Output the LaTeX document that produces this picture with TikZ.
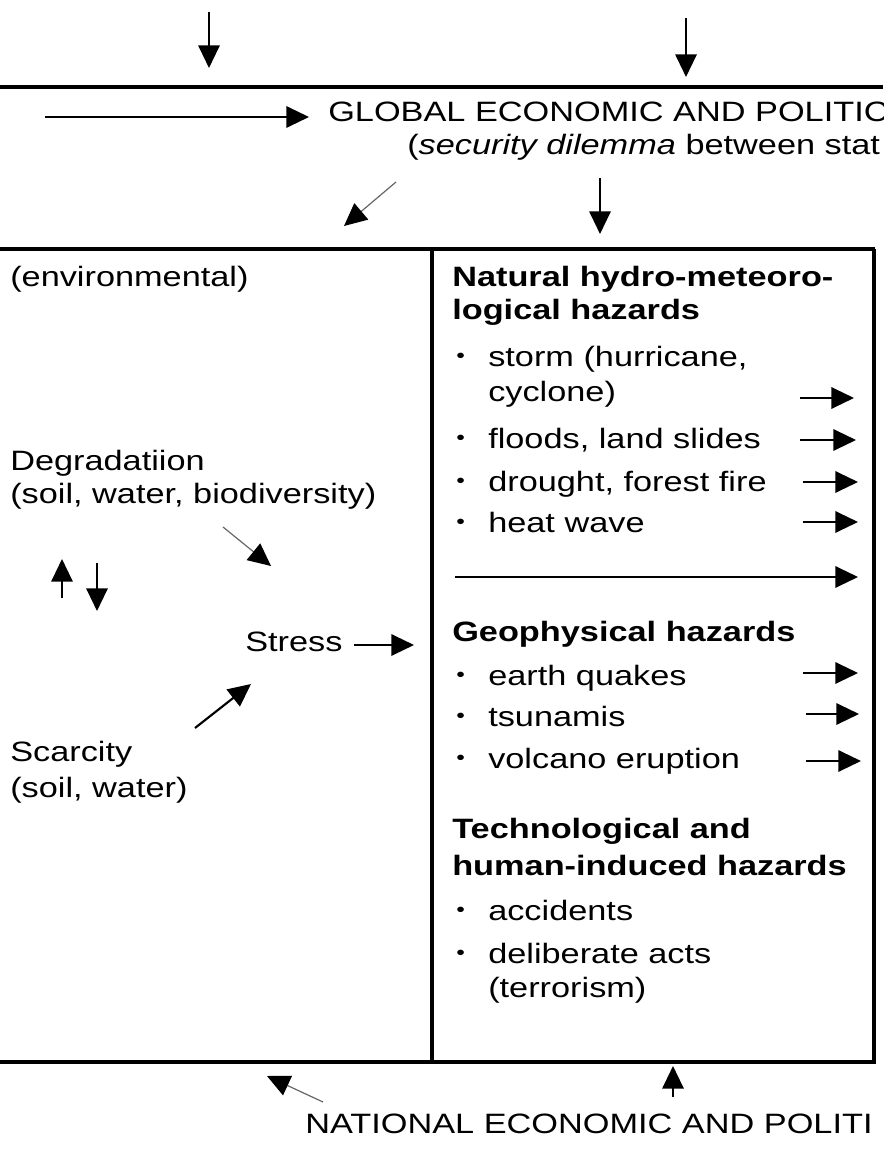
\documentclass[tikz,border=0pt]{standalone}
\usepackage{fontspec}
\setmainfont[FakeStretch=1.225]{Liberation Sans}
\usetikzlibrary{arrows.meta}
\tikzset{
  txt/.style={inner sep=0pt, anchor=base west, font=\fontsize{21}{25}\selectfont},
  hd/.style={inner sep=0pt, anchor=base west, font=\fontsize{21}{25}\selectfont\bfseries},
  bul/.style={inner sep=0pt, anchor=base west, font=\fontsize{15}{15}\selectfont},
  frameline/.style={line width=2.3pt},
  arr/.style={line width=1.6pt, -{Triangle[length=17pt,width=16pt]}},
  thinarr/.style={line width=0.9pt, draw=black!60, -{Triangle[length=17pt,width=16pt,color=black]}},
}
\newcommand{\bl}{\raisebox{3pt}{\textbullet}}
\begin{document}
\begin{tikzpicture}[x=0.75pt,y=-0.75pt]
\useasboundingbox (0,0) rectangle (883,1151);
\clip (0,0) rectangle (883,1151);

% frame
\draw[frameline] (0,87) -- (883,87);
\draw[frameline] (0,249) -- (875,249);
\draw[frameline] (0,1062) -- (876,1062);
\draw[frameline] (432,249) -- (432,1062);
\draw[frameline] (874,249) -- (874,1062);

% top fragment and headings
\node[txt] (gfrag) at (516,-5) {g};
\node[txt] (glob) at (328,122) {GLOBAL ECONOMIC AND POLITIC};
\node[txt] (secd) at (407,155) {(\textit{security dilemma} between stat};
\node[txt] (nat) at (305,1133) {NATIONAL ECONOMIC AND POLITI};

% left column
\node[txt] (env) at (10,287) {(environmental)};
\node[txt] (deg) at (10,470) {Degradatiion};
\node[txt] (deg2) at (10,503) {(soil, water, biodiversity)};
\node[txt] (stress) at (245,651) {Stress};
\node[txt] (scar) at (10,761) {Scarcity};
\node[txt] (scar2) at (10,797) {(soil, water)};

% right column
\node[hd] (h1) at (452,287) {Natural hydro-meteoro-};
\node[hd] (h1b) at (452,320) {logical hazards};
\node[bul] (b1) at (456,367) {\bl};
\node[txt] (i1) at (488,367) {storm (hurricane,};
\node[txt] (i1b) at (488,401) {cyclone)};
\node[bul] (b2) at (456,448) {\bl};
\node[txt] (i2) at (488,448) {floods, land slides};
\node[bul] (b3) at (456,491) {\bl};
\node[txt] (i3) at (488,491) {drought, forest fire};
\node[bul] (b4) at (456,532) {\bl};
\node[txt] (i4) at (488,532) {heat wave};

\node[hd] (h2) at (452,641) {Geophysical hazards};
\node[bul] (b5) at (456,685) {\bl};
\node[txt] (i5) at (488,685) {earth quakes};
\node[bul] (b6) at (456,726) {\bl};
\node[txt] (i6) at (488,726) {tsunamis};
\node[bul] (b7) at (456,768) {\bl};
\node[txt] (i7) at (488,768) {volcano eruption};

\node[hd] (h3) at (452,838) {Technological and};
\node[hd] (h3b) at (452,875) {human-induced hazards};
\node[bul] (b8) at (456,920) {\bl};
\node[txt] (i8) at (488,920) {accidents};
\node[bul] (b9) at (456,963) {\bl};
\node[txt] (i9) at (488,963) {deliberate acts};
\node[txt] (i9b) at (488,997) {(terrorism)};

% arrow end points
\coordinate (a1s) at (209,12);  \coordinate (a1e) at (209,68);
\coordinate (a2s) at (686,18);  \coordinate (a2e) at (686,77);
\coordinate (a3s) at (45,117);  \coordinate (a3e) at (309,117);
\coordinate (a4s) at (396,182); \coordinate (a4e) at (344,226);
\coordinate (a5s) at (600,178); \coordinate (a5e) at (600,234);
\coordinate (a6s) at (223,527); \coordinate (a6e) at (271,566);
\coordinate (a7s) at (62,598);  \coordinate (a7e) at (62,559);
\coordinate (a8s) at (97,563);  \coordinate (a8e) at (97,611);
\coordinate (a9s) at (354,645); \coordinate (a9e) at (414,645);
\coordinate (a10s) at (195,728); \coordinate (a10e) at (251,684);
\coordinate (r1s) at (800,398); \coordinate (r1e) at (854,398);
\coordinate (r2s) at (800,440); \coordinate (r2e) at (856,440);
\coordinate (r3s) at (803,482); \coordinate (r3e) at (858,482);
\coordinate (r4s) at (803,522); \coordinate (r4e) at (858,522);
\coordinate (r5s) at (455,577); \coordinate (r5e) at (858,577);
\coordinate (r6s) at (803,673); \coordinate (r6e) at (858,673);
\coordinate (r7s) at (806,714); \coordinate (r7e) at (859,714);
\coordinate (r8s) at (806,761); \coordinate (r8e) at (861,761);
\coordinate (b1s) at (323,1102); \coordinate (b1e) at (267,1076);
\coordinate (b2s) at (673,1097); \coordinate (b2e) at (673,1066);

% arrows
\draw[arr] (a1s) -- (a1e);
\draw[arr] (a2s) -- (a2e);
\draw[arr] (a3s) -- (a3e);
\draw[thinarr] (a4s) -- (a4e);
\draw[arr] (a5s) -- (a5e);
\draw[thinarr] (a6s) -- (a6e);
\draw[arr] (a7s) -- (a7e);
\draw[arr] (a8s) -- (a8e);
\draw[arr] (a9s) -- (a9e);
\draw[arr] (a10s) -- (a10e);
\draw[arr] (r1s) -- (r1e);
\draw[arr] (r2s) -- (r2e);
\draw[arr] (r3s) -- (r3e);
\draw[arr] (r4s) -- (r4e);
\draw[arr] (r5s) -- (r5e);
\draw[arr] (r6s) -- (r6e);
\draw[arr] (r7s) -- (r7e);
\draw[arr] (r8s) -- (r8e);
\draw[thinarr] (b1s) -- (b1e);
\draw[arr] (b2s) -- (b2e);
\end{tikzpicture}
\end{document}
